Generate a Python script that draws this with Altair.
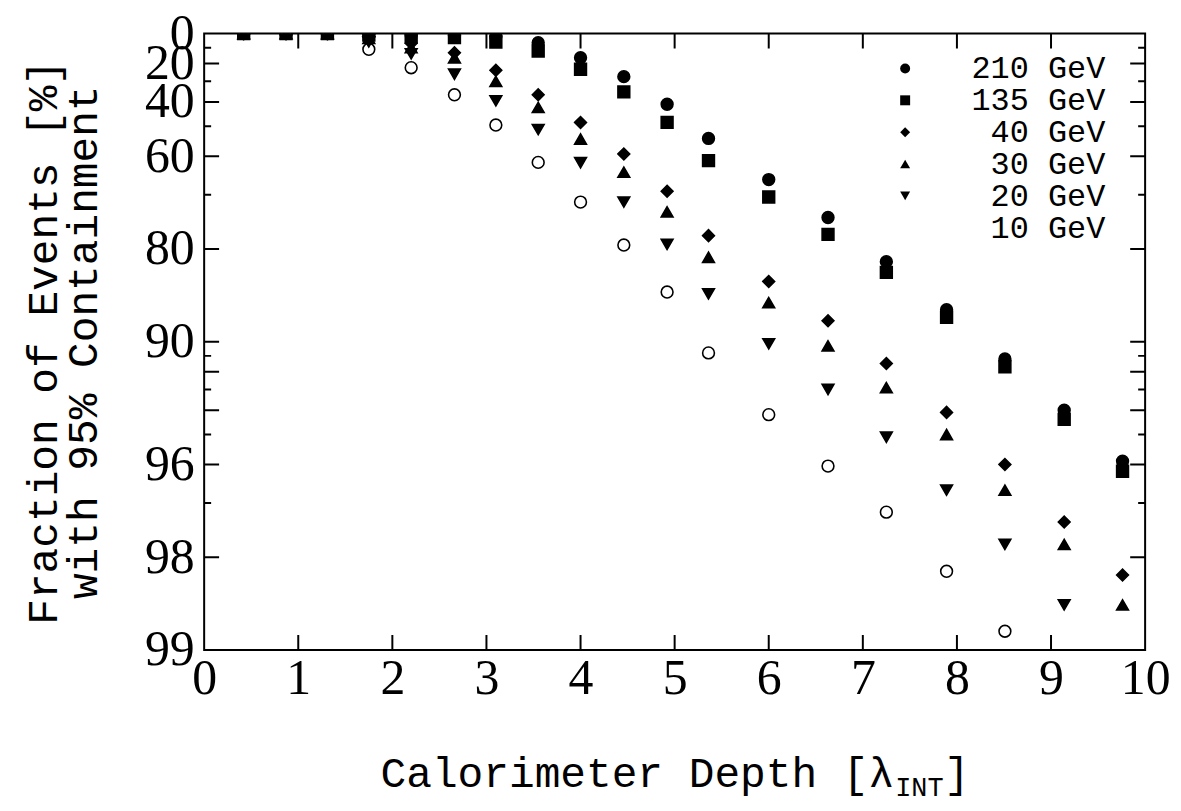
import altair as alt
import pandas as pd

# ---------------- data ----------------
depth = [0.42, 0.87, 1.31, 1.75, 2.2, 2.66, 3.1, 3.55, 4.0, 4.46, 4.92, 5.36,
         6.0, 6.63, 7.25, 7.89, 8.51, 9.14, 9.76]

energies = ["210 GeV", "135 GeV", "40 GeV", "30 GeV", "20 GeV", "10 GeV"]

frac_210 = [0, 0, 0, 0.5, 1.0, 1.5, 2.0, 6.6, 16.5, 27.5, 41.0, 54.3, 66.4, 74.7, 81.8, 87.3, 91.2, 94.0, 95.9]
frac_135 = [0, 0, 0, 1.0, 2.5, 3.0, 6.1, 12.2, 23.4, 35.3, 48.5, 61.3, 70.5, 77.7, 83.2, 88.0, 91.7, 94.4, 96.2]
frac_40 = [0, 0, 0, 2.5, 7.0, 13.3, 24.0, 36.7, 48.5, 59.3, 69.2, 77.9, 84.3, 88.3, 91.5, 94.1, 96.0, 97.4, 98.25]
frac_30 = [0, 0, 0, 3.5, 10.0, 16.5, 30.0, 42.4, 54.5, 64.5, 73.6, 81.2, 86.6, 90.3, 92.9, 95.0, 96.7, 97.8, 98.6]
frac_20 = [0, 0, 0, 6.0, 14.0, 26.2, 39.5, 51.2, 61.9, 71.6, 79.3, 85.7, 90.15, 93.0, 95.1, 96.7, 97.8, 98.6]
frac_10 = [0, 0, 0, 11.1, 22.5, 36.7, 49.5, 61.8, 71.6, 79.4, 85.5, 90.8, 94.2, 96.05, 97.2, 98.2, 98.85]

y_label_values = [0, 20, 40, 60, 80, 90, 96, 98, 99]
y_major_ticks = [20, 40, 60, 80, 90, 92, 94, 96, 98]
y_minor_ticks = [10, 30, 50, 70, 91, 93, 95, 97]
x_tick_values = [0, 1, 2, 3, 4, 5, 6, 7, 8, 9, 10]

y_title = ["Fraction of Events [%]", "with 95% Containment"]
x_title_main = "Calorimeter Depth [λ"
x_title_sub = "INT"
x_title_end = "]"

# ---------------- styling ----------------
shapes = ["circle", "square", "diamond", "triangle-up", "triangle-down", "circle"]
fills = ["black", "black", "black", "black", "black", "white"]

W, H = 945, 619
SERIF = "Liberation Serif"
MONO = "Liberation Mono"

series = [frac_210, frac_135, frac_40, frac_30, frac_20, frac_10]
rows = []
for lab, fr in reversed(list(zip(energies, series))):  # open circles drawn first
    for d, f in zip(depth, fr):
        rows.append({"depth": d, "fraction": f, "energy": lab})
df = pd.DataFrame(rows)

xscale = alt.Scale(domain=[0, 10], nice=False, zero=False)
yscale = alt.Scale(type="log", domain=[1, 100], nice=False)

xaxis = alt.Axis(values=x_tick_values, ticks=False, domain=False, grid=False,
                 labelFont=SERIF, labelFontSize=50, labelColor="black",
                 labelPadding=4, labelFlush=False, title=None)
yaxis = alt.Axis(values=[100 - v for v in y_label_values],
                 labelExpr="100 - datum.value",
                 ticks=False, domain=False, grid=False,
                 labelFont=SERIF, labelFontSize=50, labelColor="black",
                 labelPadding=10, labelOverlap=False, labelFlush=False,
                 title=y_title, titleFont=MONO, titleFontSize=43,
                 titleFontWeight="normal", titleColor="black",
                 titleLineHeight=40, titleX=-139, titleY=H / 2)

legend = alt.Legend(
    title=None, orient="none", legendX=688, legendY=19,
    labelFont=MONO, labelFontSize=32, labelColor="black",
    labelAlign="right", labelOffset=185,
    symbolSize=100, symbolStrokeColor="black", symbolStrokeWidth=1.5,
    rowPadding=0, padding=0,
)

points = alt.Chart(df).transform_calculate(
    rest="100 - datum.fraction"
).mark_point(clip=True, opacity=1, fillOpacity=1, stroke="black",
             strokeWidth=1.6, size=140).encode(
    x=alt.X("depth:Q", scale=xscale, axis=xaxis),
    y=alt.Y("rest:Q", scale=yscale, axis=yaxis),
    shape=alt.Shape("energy:N", scale=alt.Scale(domain=energies, range=shapes), legend=legend),
    fill=alt.Fill("energy:N", scale=alt.Scale(domain=energies, range=fills), legend=legend),
)

ymaj_df = pd.DataFrame({"f": y_major_ticks})
ymin_df = pd.DataFrame({"f": y_minor_ticks})


def ytick_layer(data, length, xpos):
    return alt.Chart(data).transform_calculate(rest="100 - datum.f").mark_tick(
        clip=True, thickness=2, color="black", orient="horizontal", size=length, opacity=1
    ).encode(y=alt.Y("rest:Q", scale=yscale, axis=yaxis), x=alt.value(xpos))


xtick_df = pd.DataFrame({"v": x_tick_values[1:-1]})


def xtick_layer(ypos):
    return alt.Chart(xtick_df).mark_tick(
        clip=True, thickness=2, color="black", orient="vertical", size=30, opacity=1
    ).encode(x=alt.X("v:Q", scale=xscale, axis=xaxis), y=alt.value(ypos))


t_main = alt.Chart(pd.DataFrame({"t": [x_title_main]})).mark_text(
    font=MONO, fontSize=43, align="right", baseline="alphabetic", color="black"
).encode(text="t:N", x=alt.value(693), y=alt.value(757))
t_sub = alt.Chart(pd.DataFrame({"t": [x_title_sub]})).mark_text(
    font=MONO, fontSize=27, align="left", baseline="alphabetic", color="black"
).encode(text="t:N", x=alt.value(694), y=alt.value(766))
t_end = alt.Chart(pd.DataFrame({"t": [x_title_end]})).mark_text(
    font=MONO, fontSize=43, align="left", baseline="alphabetic", color="black"
).encode(text="t:N", x=alt.value(743), y=alt.value(757))

chart = alt.layer(
    points,
    ytick_layer(ymaj_df, 30, 0), ytick_layer(ymin_df, 14, 0),
    ytick_layer(ymaj_df, 30, W), ytick_layer(ymin_df, 14, W),
    xtick_layer(H), xtick_layer(0),
    t_main, t_sub, t_end,
).properties(
    width=W, height=H,
    autosize=alt.AutoSizeParams(type="none"),
    padding={"left": 197, "top": 24, "right": 28, "bottom": 152},
    background="white",
).configure_view(stroke="black", strokeWidth=2)

chart.save("out.html", embed_options={"renderer": "svg", "actions": False})
